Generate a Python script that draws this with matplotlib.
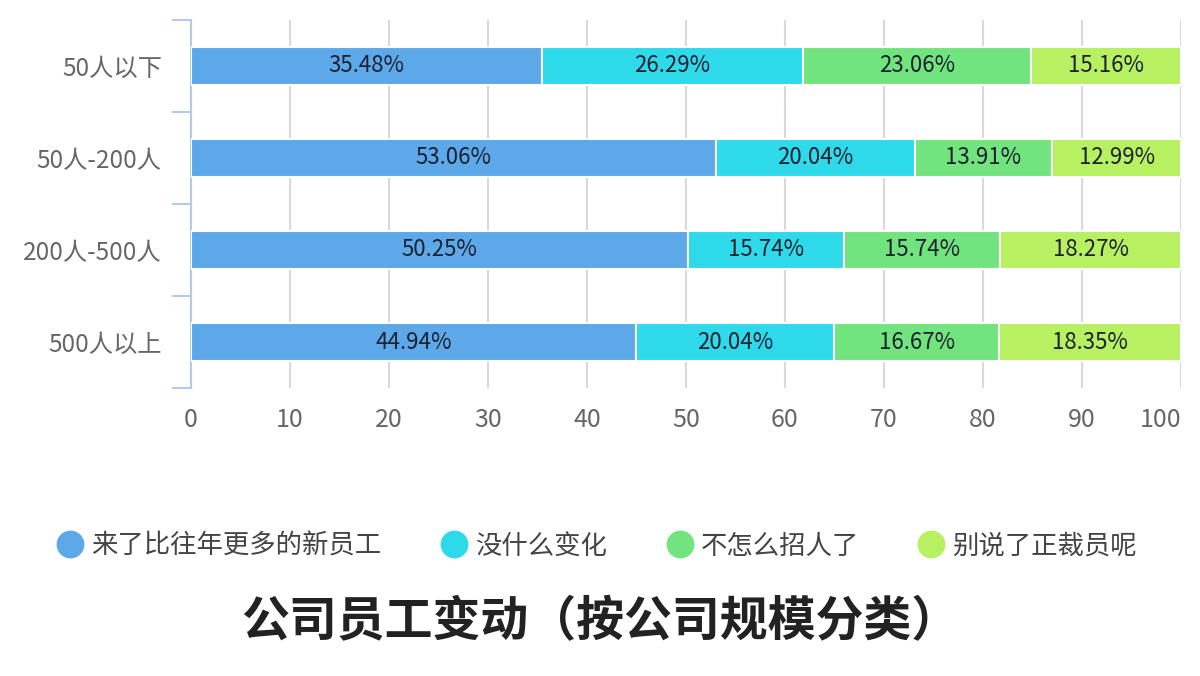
import matplotlib
matplotlib.use("Agg")
import matplotlib.pyplot as plt
from matplotlib.lines import Line2D
import numpy as np

plt.rcParams['font.family'] = ['Noto Sans CJK SC', 'DejaVu Sans']

categories = ["50人以下", "50人-200人", "200人-500人", "500人以上"]
series_names = ["来了比往年更多的新员工", "没什么变化", "不怎么招人了", "别说了正裁员呢"]
values = {
    "来了比往年更多的新员工": [35.48, 53.06, 50.25, 44.94],
    "没什么变化": [26.29, 20.04, 15.74, 20.04],
    "不怎么招人了": [23.06, 13.91, 15.74, 16.67],
    "别说了正裁员呢": [15.16, 12.99, 18.27, 18.35],
}
xticks = [0, 10, 20, 30, 40, 50, 60, 70, 80, 90, 100]
colors = ["#5ca8e8", "#2ed9ea", "#72e47d", "#b7f060"]
title = "公司员工变动（按公司规模分类）"

fig = plt.figure(figsize=(12, 6.76), dpi=100)
ax = fig.add_axes([191/1200, 1-388/676, 990/1200, 368/676])

y = np.arange(len(categories))
left = np.zeros(len(categories))
for name, c in zip(series_names, colors):
    v = np.array(values[name])
    ax.barh(y, v, left=left, height=0.41, color=c, edgecolor="white", linewidth=1.5, zorder=3)
    for yi, (l, vi) in enumerate(zip(left, v)):
        ax.text(l + vi/2, yi, f"{vi:.2f}%", ha="center", va="center",
                fontsize=16, color="#1c2030", zorder=4)
    left += v

ax.set_xlim(0, 100)
ax.set_ylim(len(categories)-0.5, -0.5)
ax.set_xticks(xticks)
ax.set_xticklabels([str(t) for t in xticks])
ax.grid(axis="x", color="#d9d9d9", linewidth=1.5, zorder=0)
ax.set_axisbelow(True)

for s in ["top", "right", "bottom"]:
    ax.spines[s].set_visible(False)
ax.spines["left"].set_color("#b6cbe2")
ax.spines["left"].set_linewidth(1.5)

ax.set_yticks(y)
ax.set_yticklabels(categories)
ax.set_yticks(np.arange(-0.5, len(categories)), minor=True)
ax.tick_params(axis="y", which="major", length=0, pad=21, labelsize=17.5, labelcolor="#666666")
ax.tick_params(axis="y", which="minor", length=14, width=1.5, color="#b6cbe2")
ax.tick_params(axis="x", length=0, pad=14, labelsize=18, labelcolor="#666666")
lbls = ax.get_xticklabels()
lbls[-1].set_horizontalalignment("right")

handles = [Line2D([0], [0], marker="o", linestyle="", markersize=19,
                  markerfacecolor=c, markeredgecolor=c) for c in colors]
fig.legend(handles, series_names, loc="center", bbox_to_anchor=(0.4965, 1-546/676),
           ncol=4, frameon=False, fontsize=19, labelcolor="#444444",
           columnspacing=2.15, handletextpad=0.2, handlelength=1.2)

fig.text(0.5, 1-622/676, title, ha="center", va="center", fontsize=34.5,
         fontweight="bold", color="#222222")

fig.savefig("out.png", dpi=100, facecolor="white")
